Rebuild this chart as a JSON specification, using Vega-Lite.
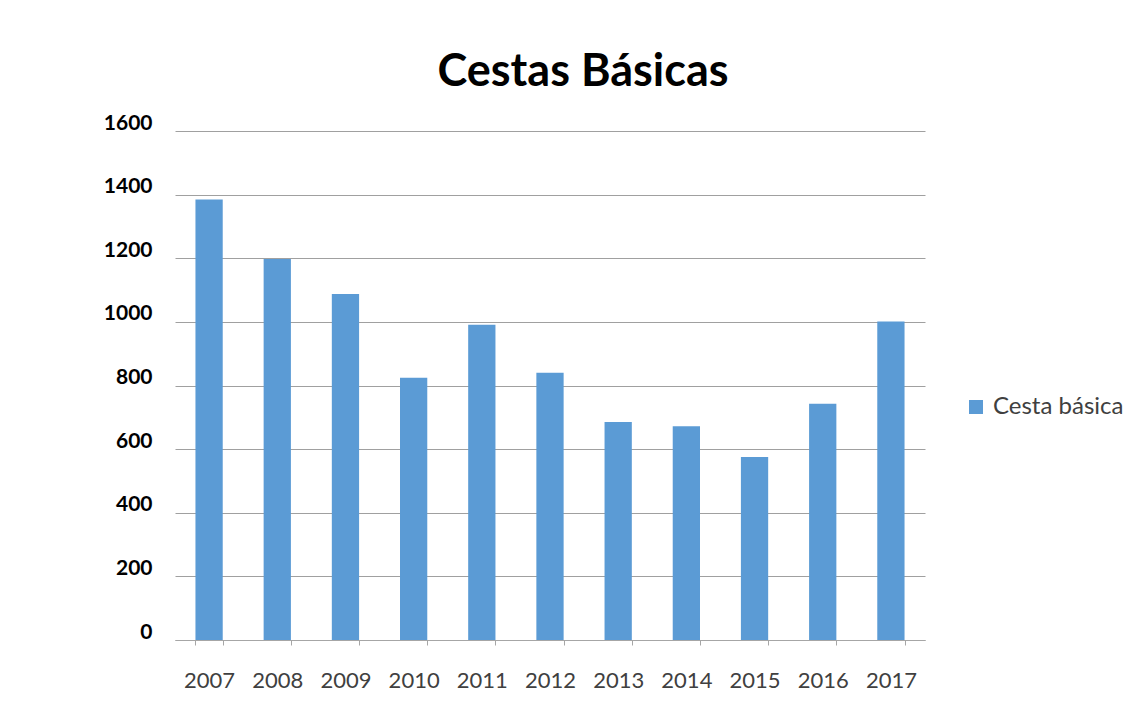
{
  "$schema": "https://vega.github.io/schema/vega-lite/v6.json",
  "width": 750,
  "height": 509,
  "autosize": {"type": "none"},
  "padding": {"left": 175, "top": 131, "right": 221, "bottom": 62},
  "background": "white",
  "title": {
    "text": "Cestas Básicas",
    "font": "Lato",
    "fontSize": 45,
    "fontWeight": "bold",
    "color": "#000000",
    "anchor": "middle",
    "baseline": "alphabetic",
    "dx": 33,
    "dy": 47,
    "offset": 28
  },
  "data": {
    "values": [
      {"ano": "2007", "valor": 1385, "serie": "Cesta básica"},
      {"ano": "2008", "valor": 1198, "serie": "Cesta básica"},
      {"ano": "2009", "valor": 1088, "serie": "Cesta básica"},
      {"ano": "2010", "valor": 824, "serie": "Cesta básica"},
      {"ano": "2011", "valor": 991, "serie": "Cesta básica"},
      {"ano": "2012", "valor": 840, "serie": "Cesta básica"},
      {"ano": "2013", "valor": 685, "serie": "Cesta básica"},
      {"ano": "2014", "valor": 672, "serie": "Cesta básica"},
      {"ano": "2015", "valor": 575, "serie": "Cesta básica"},
      {"ano": "2016", "valor": 743, "serie": "Cesta básica"},
      {"ano": "2017", "valor": 1001, "serie": "Cesta básica"}
    ]
  },
  "mark": {"type": "bar", "color": "#5B9BD5"},
  "encoding": {
    "x": {
      "field": "ano",
      "type": "nominal",
      "title": null,
      "scale": {"paddingInner": 0.6, "paddingOuter": 0.3},
      "axis": {
        "labelAngle": 0,
        "labelFont": "Lato",
        "labelFontSize": 22,
        "labelColor": "#404040",
        "labelPadding": 25,
        "tickBand": "extent",
        "tickSize": 5,
        "tickColor": "#a6a6a6",
        "domainColor": "#a6a6a6",
        "grid": false
      }
    },
    "y": {
      "field": "valor",
      "type": "quantitative",
      "title": null,
      "scale": {"domain": [0, 1600], "nice": false},
      "axis": {
        "values": [0, 200, 400, 600, 800, 1000, 1200, 1400, 1600],
        "format": "d",
        "labelFont": "Lato",
        "labelFontSize": 21,
        "labelFontWeight": "bold",
        "labelColor": "#000000",
        "labelPadding": 23,
        "labelBaseline": "alphabetic",
        "labelOffset": -2,
        "ticks": false,
        "domain": false,
        "grid": true,
        "gridColor": "#a0a0a0",
        "gridWidth": 1
      }
    },
    "fill": {
      "field": "serie",
      "type": "nominal",
      "scale": {"range": ["#5B9BD5"]},
      "legend": {
        "title": null,
        "orient": "none",
        "legendX": 789,
        "legendY": 264,
        "padding": 0,
        "symbolType": "square",
        "symbolSize": 196,
        "symbolStrokeWidth": 0,
        "labelFont": "Lato",
        "labelFontSize": 24,
        "labelColor": "#404040",
        "labelOffset": 5
      }
    }
  },
  "config": {
    "view": {"stroke": null}
  }
}
